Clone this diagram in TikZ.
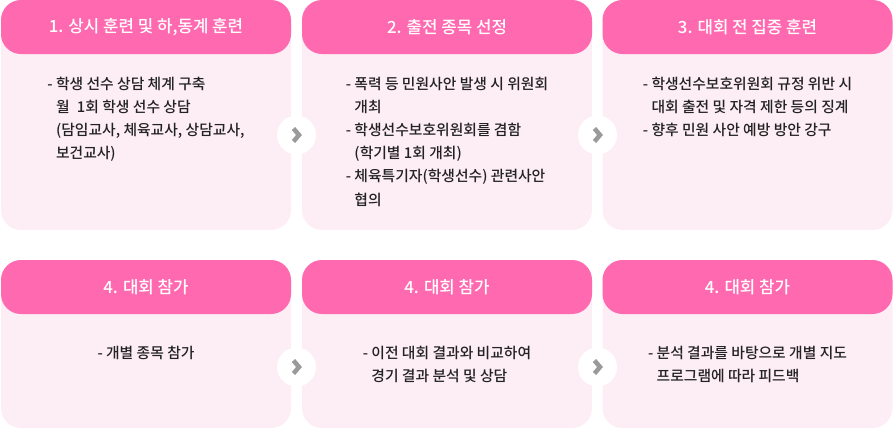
\documentclass[tikz,border=0pt]{standalone}
\usepackage{fontspec}
\setmainfont{Noto Sans CJK KR}[BoldFont={Noto Sans CJK KR Bold}]
\newfontfamily\medfont{Noto Sans CJK KR Medium}
\definecolor{headpink}{HTML}{FF69B0}
\definecolor{bodypink}{HTML}{FDEDF4}
\definecolor{txtdark}{HTML}{222222}
\definecolor{chevgray}{HTML}{9A9A9A}
\begin{document}
\begin{tikzpicture}[x=1pt,y=-1pt,
  cardbody/.style={rectangle, fill=bodypink, rounded corners=20pt, minimum width=290pt, inner sep=0pt, draw=none},
  cardhead/.style={rectangle, fill=headpink, rounded corners=20pt, minimum width=290pt, minimum height=54pt, inner sep=0pt, text=white, font=\fontsize{16.8}{18}\selectfont\medfont},
  bodytext/.style={anchor=north, align=left, inner sep=0pt, text=txtdark, font=\fontsize{14.8}{23.2}\selectfont\medfont},
  stepcircle/.style={circle, fill=white, minimum size=39pt, inner sep=0pt},
  chev/.style={draw=chevgray, line width=4.5pt, line join=miter}
]
\useasboundingbox (0,0) rectangle (893,429);
\newcommand{\ind}{\hphantom{- }}
\newcommand{\htext}[1]{\raisebox{-2.3pt}{#1}}
% row 1
\node[cardbody, minimum height=230pt] (b1) at (146,115) {};
\node[cardbody, minimum height=230pt] (b2) at (447,115) {};
\node[cardbody, minimum height=230pt] (b3) at (747.5,115) {};
\node[cardhead] (h1) at (146,27) {\htext{1. 상시 훈련 및 하,동계 훈련}};
\node[cardhead] (h2) at (447,27) {\htext{2. 출전 종목 선정}};
\node[cardhead] (h3) at (747.5,27) {\htext{3. 대회 전 집중 훈련}};
\node[bodytext] (t1) at (146,76.5) {- 학생 선수 상담 체계 구축\\ \ind 월\hspace{4pt} 1회 학생 선수 상담\\ \ind(담임교사, 체육교사, 상담교사,\\ \ind 보건교사)};
\node[bodytext] (t2) at (447,76.5) {- 폭력 등 민원사안 발생 시 위원회\\ \ind 개최\\ - 학생선수보호위원회를 겸함\\ \ind(학기별 1회 개최)\\ - 체육특기자(학생선수) 관련사안\\ \ind 협의};
\node[bodytext] (t3) at (747.5,76.5) {- 학생선수보호위원회 규정 위반 시\\ \ind 대회 출전 및 자격 제한 등의 징계\\ - 향후 민원 사안 예방 방안 강구};
% row 2
\node[cardbody, minimum height=168pt] (b4) at (146,344) {};
\node[cardbody, minimum height=168pt] (b5) at (447,344) {};
\node[cardbody, minimum height=168pt] (b6) at (747.5,344) {};
\node[cardhead] (h4) at (146,287) {\htext{4. 대회 참가}};
\node[cardhead] (h5) at (447,287) {\htext{4. 대회 참가}};
\node[cardhead] (h6) at (747.5,287) {\htext{4. 대회 참가}};
\node[bodytext] (t4) at (146,345.5) {- 개별 종목 참가};
\node[bodytext] (t5) at (447,345.5) {- 이전 대회 결과와 비교하여\\ \ind 경기 결과 분석 및 상담};
\node[bodytext] (t6) at (747.5,345.5) {- 분석 결과를 바탕으로 개별 지도\\ \ind 프로그램에 따라 피드백};
% arrows
\foreach \n/\px/\py in {a1/296.5/135, a2/597.5/135, a3/296.5/367, a4/597.5/367}{
  \node[stepcircle] (\n) at (\px,\py) {};
  \draw[chev] ([shift={(-3,-6.5)}]\n.center) -- ++(5.5,6.5) -- ++(-5.5,6.5);
}
\end{tikzpicture}
\end{document}
